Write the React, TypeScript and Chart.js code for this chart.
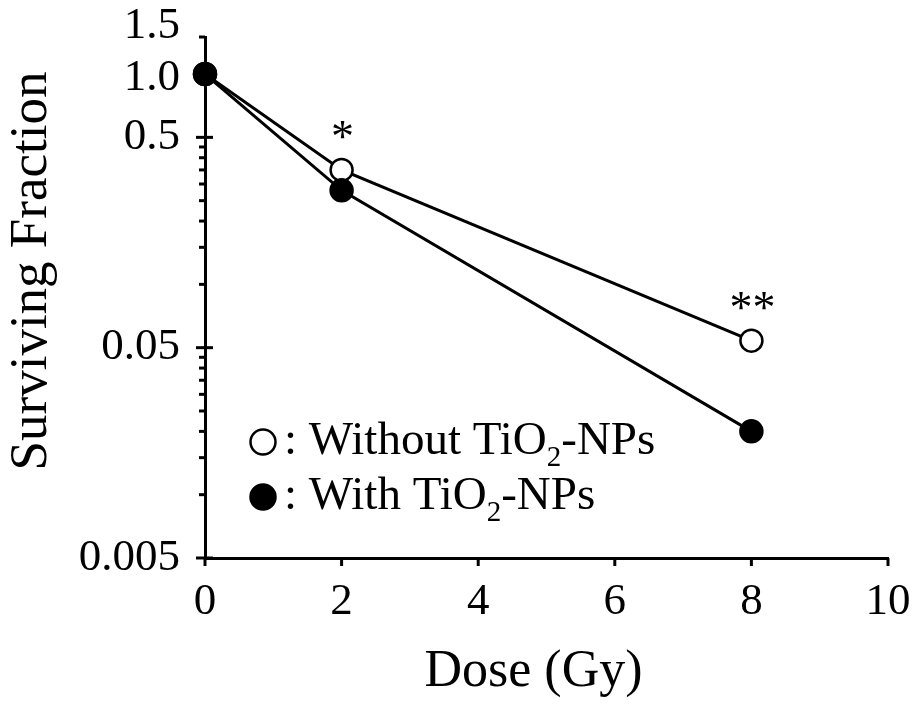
import { useEffect, useRef } from 'react';
import { Chart, registerables } from 'chart.js';

Chart.register(...registerables);

// ---- data ----
const doses = [0, 2, 8];
const withoutNPs = [1.0, 0.35, 0.054];
const withNPs = [1.0, 0.28, 0.02];

const xTicks = [0, 2, 4, 6, 8, 10];
const yTicks = [
  0.005, 0.01, 0.015, 0.02, 0.025, 0.03, 0.035, 0.04, 0.045, 0.05,
  0.1, 0.15, 0.2, 0.25, 0.3, 0.35, 0.4, 0.45, 0.5, 1.0, 1.5,
];
const yMajorTicks = [0.005, 0.05, 0.5];
const yTickLabels: Record<string, string> = {
  '0.005': '0.005',
  '0.05': '0.05',
  '0.5': '0.5',
  '1': '1.0',
  '1.5': '1.5',
};
const significance = [
  { dose: 2, mark: '*' },
  { dose: 8, mark: '**' },
];
const legendLabels = [
  { pre: ': Without TiO', sub: '2', post: '-NPs' },
  { pre: ': With TiO', sub: '2', post: '-NPs' },
];

const FONT = "'Liberation Serif', 'Times New Roman', serif";

const axisTicksPlugin = {
  id: 'axisTicks',
  beforeDatasetsDraw(chart: any) {
    const ctx = chart.ctx;
    const xs = chart.scales.x;
    const ys = chart.scales.y;
    const left = chart.chartArea.left;
    const bottom = chart.chartArea.bottom;
    ctx.save();
    ctx.strokeStyle = '#000';
    ctx.lineWidth = 3;
    ys.ticks.forEach((t: any) => {
      if (t.value === 1) return;
      const py = ys.getPixelForValue(t.value);
      const major = yMajorTicks.includes(t.value);
      ctx.beginPath();
      ctx.moveTo(left - (major ? 9 : 6), py);
      ctx.lineTo(left + (major ? 8 : 0), py);
      ctx.stroke();
    });
    xs.ticks.forEach((t: any) => {
      const px = xs.getPixelForValue(t.value);
      ctx.beginPath();
      ctx.moveTo(px, bottom);
      ctx.lineTo(px, bottom + 8);
      ctx.stroke();
    });
    ctx.restore();
  },
};

const annotationsPlugin = {
  id: 'annotations',
  afterDraw(chart: any) {
    const ctx = chart.ctx;
    const xs = chart.scales.x;
    const ys = chart.scales.y;
    ctx.save();
    ctx.fillStyle = '#000';
    ctx.textAlign = 'center';
    ctx.textBaseline = 'alphabetic';
    ctx.font = `46px ${FONT}`;
    significance.forEach((s) => {
      const i = doses.indexOf(s.dose);
      const px = xs.getPixelForValue(doses[i]);
      const py = ys.getPixelForValue(withoutNPs[i]);
      ctx.fillText(s.mark, px + 1, py - 18);
    });

    // legend
    const datasets = chart.data.datasets;
    legendLabels.forEach((lab, i) => {
      const ds = datasets[i];
      const cx = 263;
      const cy = 442 + i * 55;
      ctx.beginPath();
      ctx.arc(cx, cy, 12.5, 0, Math.PI * 2);
      ctx.fillStyle = ds.pointBackgroundColor;
      ctx.fill();
      ctx.lineWidth = 2.5;
      ctx.strokeStyle = ds.pointBorderColor;
      ctx.stroke();

      const base = 454 + i * 55;
      ctx.fillStyle = '#000';
      ctx.textAlign = 'left';
      let x = 284;
      ctx.font = `47px ${FONT}`;
      ctx.fillText(lab.pre, x, base);
      x += ctx.measureText(lab.pre).width;
      ctx.font = `29px ${FONT}`;
      ctx.fillText(lab.sub, x, base + 12);
      x += ctx.measureText(lab.sub).width;
      ctx.font = `47px ${FONT}`;
      ctx.fillText(lab.post, x, base);
    });
    ctx.restore();
  },
};

export default function App() {
  const canvasRef = useRef<HTMLCanvasElement | null>(null);

  useEffect(() => {
    const canvas = canvasRef.current;
    if (!canvas) return;
    Chart.defaults.font.family = FONT;
    Chart.defaults.color = '#000';

    const chart = new Chart(canvas, {
      type: 'line',
      data: {
        datasets: [
          {
            label: 'Without TiO2-NPs',
            data: doses.map((d, i) => ({ x: d, y: withoutNPs[i] })),
            borderColor: '#000',
            borderWidth: 3,
            pointRadius: 11,
            pointBorderWidth: 2.5,
            pointBackgroundColor: '#fff',
            pointBorderColor: '#000',
            clip: false as any,
            order: 2,
          },
          {
            label: 'With TiO2-NPs',
            data: doses.map((d, i) => ({ x: d, y: withNPs[i] })),
            borderColor: '#000',
            borderWidth: 3,
            pointRadius: 11,
            pointBorderWidth: 2.5,
            pointBackgroundColor: '#000',
            pointBorderColor: '#000',
            clip: false as any,
            order: 1,
          },
        ],
      },
      options: {
        animation: false,
        responsive: false,
        devicePixelRatio: 1,
        layout: { padding: { left: 0, right: 28, top: 37, bottom: 0 } },
        plugins: {
          legend: { display: false },
          tooltip: { enabled: false },
        },
        scales: {
          x: {
            type: 'linear',
            min: 0,
            max: 10,
            afterBuildTicks: (s: any) => {
              s.ticks = xTicks.map((v) => ({ value: v }));
            },
            afterFit: (s: any) => {
              s.height = 152;
              s.paddingLeft = 0;
              s.paddingRight = 0;
            },
            grid: { display: false, drawTicks: false },
            border: { display: true, color: '#000', width: 3 },
            ticks: {
              color: '#000',
              font: { size: 45, family: FONT },
              padding: 17,
              autoSkip: false,
              maxRotation: 0,
              callback: (v: any) => String(v),
            },
            title: {
              display: true,
              text: 'Dose (Gy)  ',
              color: '#000',
              font: { size: 52, family: FONT },
              padding: { top: 0, bottom: 6 },
            },
          },
          y: {
            type: 'logarithmic',
            min: 0.005,
            max: 1.5,
            afterBuildTicks: (s: any) => {
              s.ticks = yTicks.map((v) => ({ value: v }));
            },
            afterFit: (s: any) => {
              s.width = 205;
              s.paddingTop = 0;
              s.paddingBottom = 0;
            },
            grid: { display: false, drawTicks: false },
            border: { display: true, color: '#000', width: 3 },
            ticks: {
              color: '#000',
              font: (c: any) => {
                const v = c.tick ? c.tick.value : null;
                if (v === 1.5) return { size: 45, family: FONT, lineHeight: 0.5 };
                if (v === 1) return { size: 45, family: FONT, lineHeight: 0.18 };
                return { size: 45, family: FONT };
              },
              padding: 25,
              autoSkip: false,
              callback: (v: any) => {
                const lab = yTickLabels[String(v)] ?? '';
                if (v === 1.5) return [lab, ''];
                if (v === 1) return ['', lab];
                return lab;
              },
            },
            title: {
              display: true,
              text: '    Surviving Fraction',
              color: '#000',
              font: { size: 53, family: FONT },
              padding: { top: 0, bottom: 0 },
            },
          },
        },
      },
      plugins: [axisTicksPlugin, annotationsPlugin],
    });

    return () => chart.destroy();
  }, []);

  return (
    <div style={{ position: 'fixed', left: 0, top: 0, width: 916, height: 710, background: '#fff' }}>
      <canvas ref={canvasRef} width={916} height={710} style={{ width: 916, height: 710, display: 'block' }} />
    </div>
  );
}
